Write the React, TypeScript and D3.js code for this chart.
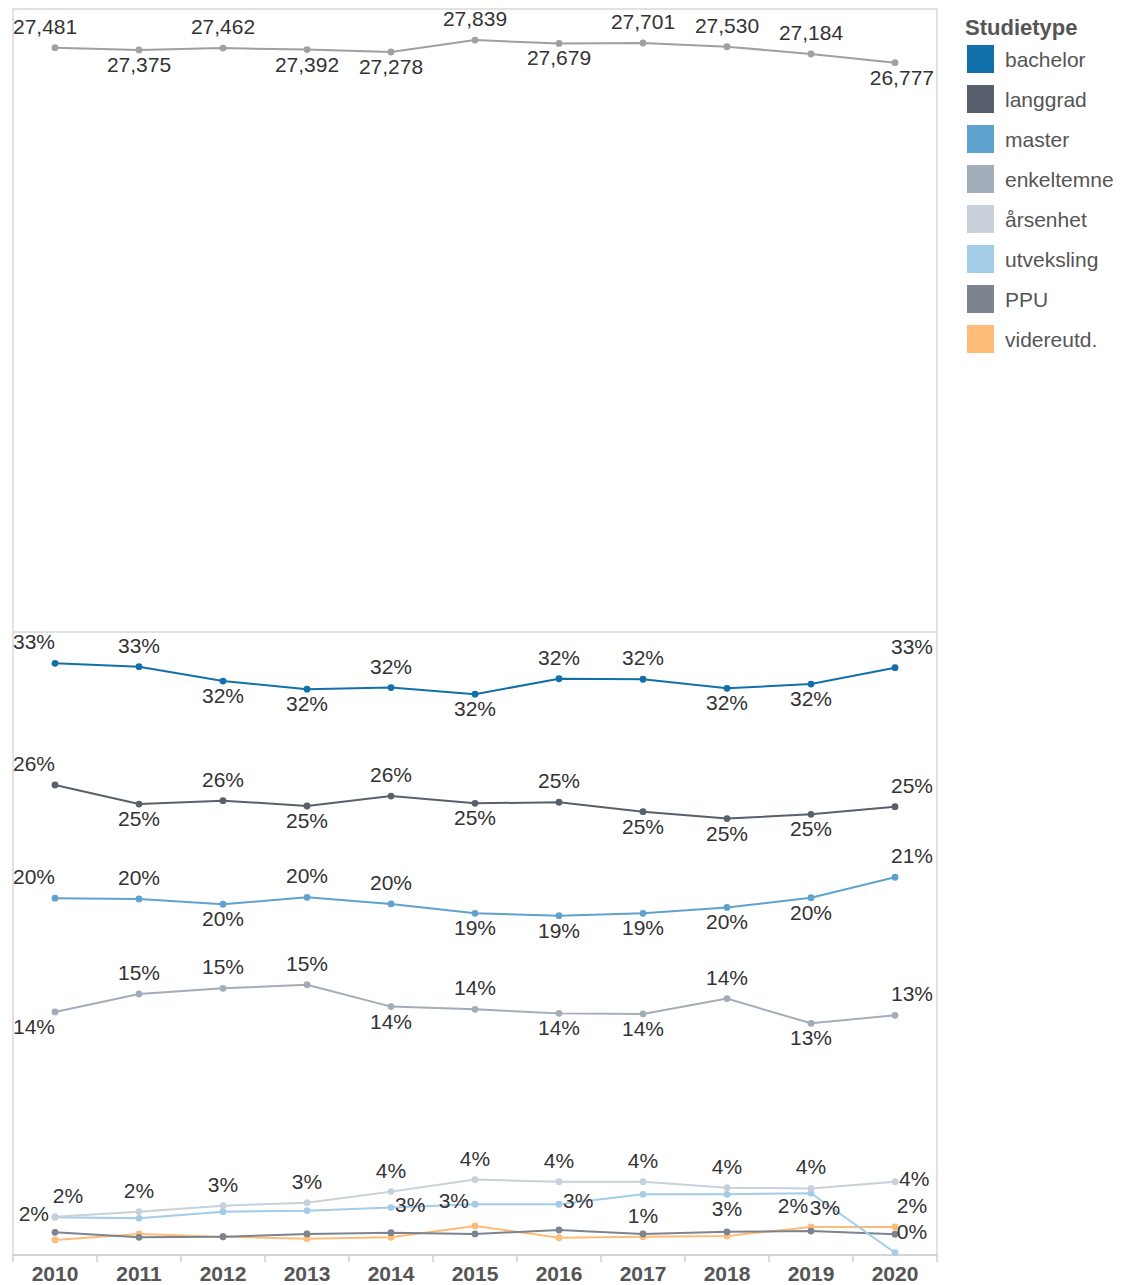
import React from 'react';
import * as d3 from 'd3';

// ---------- data ----------
const years = [2010, 2011, 2012, 2013, 2014, 2015, 2016, 2017, 2018, 2019, 2020];
const totalStudents = [27481, 27375, 27462, 27392, 27278, 27839, 27679, 27701, 27530, 27184, 26777];

const bachelor = [33.24, 33.05, 32.24, 31.78, 31.87, 31.5, 32.37, 32.34, 31.83, 32.07, 32.99];
const langgrad = [26.39, 25.32, 25.51, 25.21, 25.77, 25.36, 25.42, 24.89, 24.5, 24.74, 25.17];
const master = [20.02, 19.98, 19.68, 20.07, 19.7, 19.17, 19.04, 19.17, 19.5, 20.05, 21.2];
const enkeltemne = [13.62, 14.63, 14.95, 15.15, 13.92, 13.77, 13.54, 13.51, 14.37, 12.98, 13.43];
const arsenhet = [2.1, 2.38, 2.72, 2.89, 3.51, 4.19, 4.07, 4.07, 3.73, 3.69, 4.07];
const utveksling = [2.07, 2.01, 2.38, 2.44, 2.61, 2.8, 2.8, 3.36, 3.36, 3.42, 0.07];
const ppu = [1.22, 0.94, 0.97, 1.13, 1.2, 1.13, 1.35, 1.13, 1.25, 1.29, 1.11];
const videreutd = [0.79, 1.13, 0.97, 0.86, 0.94, 1.58, 0.92, 0.97, 1.01, 1.52, 1.52];

const seriesNames = ['bachelor', 'langgrad', 'master', 'enkeltemne', 'årsenhet', 'utveksling', 'PPU', 'videreutd.'];
const seriesValues = [bachelor, langgrad, master, enkeltemne, arsenhet, utveksling, ppu, videreutd];
const seriesColors = ['#1170aa', '#57606c', '#5fa2ce', '#a3acb9', '#c8d0d9', '#a3cce9', '#7b848f', '#ffbc79'];
const legendTitle = 'Studietype';

// ---------- label placement (a = above, b = below, r = right, l = left) ----------
type Spec = null | string | { p: string; dx: number };
const totalLabelPos: Spec[] = ['a', 'b', 'a', 'b', 'b', 'a', 'b', 'a', 'a', 'a', 'b'];
const seriesLabelPos: Spec[][] = [
  ['a', 'a', 'b', 'b', 'a', 'b', 'a', 'a', 'b', 'b', 'a'],
  ['a', 'b', 'a', 'b', 'a', 'b', 'a', 'b', 'b', 'b', 'a'],
  ['a', 'a', 'b', 'a', 'a', 'b', 'b', 'b', 'b', 'b', 'a'],
  ['b', 'a', 'a', 'a', 'b', 'a', 'b', 'b', 'a', 'b', 'a'],
  [{ p: 'a', dx: 13 }, 'a', 'a', 'a', 'a', 'a', 'a', 'a', 'a', 'a', 'r'],
  ['l', null, null, null, 'r', 'l', 'r', null, 'b', { p: 'b', dx: 14 }, 'a'],
  [null, null, null, null, null, null, null, null, null, null, null],
  [null, null, null, null, null, null, null, 'a', null, { p: 'a', dx: -18 }, 'a'],
];

// ---------- layout ----------
const W = 1123;
const H = 1285;
const LEFT = 13;
const RIGHT = 937;
const TOP = 9;
const MID = 632;
const BOTTOM = 1255;
const FONT = '"Liberation Sans", Arial, Helvetica, sans-serif';
const LABEL_SIZE = 21;

let measureCtx: CanvasRenderingContext2D | null = null;
function textWidth(t: string, size: number, weight = 'normal') {
  if (!measureCtx && typeof document !== 'undefined') {
    measureCtx = document.createElement('canvas').getContext('2d');
  }
  if (!measureCtx) return t.length * size * 0.55;
  measureCtx.font = `${weight} ${size}px ${FONT}`;
  return measureCtx.measureText(t).width;
}

function place(i: number, n: number, px: number, py: number, spec: Spec, text: string) {
  if (!spec) return null;
  const s = typeof spec === 'string' ? { p: spec, dx: undefined as number | undefined } : spec;
  const w = textWidth(text, LABEL_SIZE);
  if (s.p === 'a' || s.p === 'b') {
    const y = s.p === 'a' ? py - 14 : py + 22;
    let cx: number;
    if (s.dx !== undefined) cx = px + s.dx;
    else {
      cx = px + (i === 0 ? -22 : i === n - 1 ? 17 : 0);
      cx = Math.max(LEFT + w / 2, Math.min(934 - w / 2, cx));
    }
    return { x: cx - w / 2, y, text };
  }
  if (s.p === 'r') return { x: px + 4, y: py + 4, text };
  return { x: px - 6 - w, y: py + 4, text };
}

export default function App() {
  const x = d3.scaleBand<number>().domain(years).range([LEFT, RIGHT]).padding(0);
  const xc = (yr: number) => (x(yr) as number) + x.bandwidth() / 2;
  const yTop = d3.scaleLinear().domain([0, 29300]).range([MID, TOP]);
  const yBot = d3.scaleLinear().domain([0, 35]).range([1254, MID]);

  const fmtInt = d3.format(',');
  const fmtPct = (v: number) => `${Math.round(v)}%`;

  const lineTop = d3
    .line<number>()
    .x((_, i) => xc(years[i]))
    .y((d) => yTop(d));
  const lineBot = d3
    .line<number>()
    .x((_, i) => xc(years[i]))
    .y((d) => yBot(d));

  const n = years.length;
  const labels: { x: number; y: number; text: string }[] = [];
  totalStudents.forEach((v, i) => {
    const l = place(i, n, xc(years[i]), yTop(v), totalLabelPos[i], fmtInt(v));
    if (l) labels.push(l);
  });
  seriesValues.forEach((vals, s) => {
    vals.forEach((v, i) => {
      const l = place(i, n, xc(years[i]), yBot(v), seriesLabelPos[s][i], fmtPct(v));
      if (l) labels.push(l);
    });
  });

  const drawOrder = seriesValues.map((_, i) => i).reverse();
  const tickPositions = years.map((yr) => x(yr) as number).concat([RIGHT]);

  return (
    <svg
      width={W}
      height={H}
      style={{ position: 'absolute', left: 0, top: 0, background: '#fff' }}
      fontFamily={FONT}
    >
      <rect x={0} y={0} width={W} height={H} fill="#fff" />
      {/* frame */}
      <rect x={LEFT} y={TOP} width={RIGHT - LEFT} height={BOTTOM - TOP} fill="none" stroke="#d9d9d9" strokeWidth={1.5} />
      <line x1={LEFT} x2={RIGHT} y1={MID} y2={MID} stroke="#d9d9d9" strokeWidth={1.5} />
      {/* x axis */}
      <line x1={LEFT} x2={RIGHT} y1={BOTTOM} y2={BOTTOM} stroke="#cfcfcf" strokeWidth={1.5} />
      {tickPositions.map((tx, i) => (
        <line key={i} x1={tx} x2={tx} y1={BOTTOM} y2={BOTTOM + 7} stroke="#cfcfcf" strokeWidth={1.5} />
      ))}
      {years.map((yr) => (
        <text key={yr} x={xc(yr)} y={1281} textAnchor="middle" fontSize={21} fontWeight="bold" fill="#555">
          {yr}
        </text>
      ))}

      {/* top pane */}
      <path d={lineTop(totalStudents) || ''} fill="none" stroke="#a0a0a0" strokeWidth={2} />
      {totalStudents.map((v, i) => (
        <circle key={i} cx={xc(years[i])} cy={yTop(v)} r={3.4} fill="#a0a0a0" />
      ))}

      {/* bottom pane */}
      {drawOrder.map((s) => (
        <g key={seriesNames[s]}>
          <path d={lineBot(seriesValues[s]) || ''} fill="none" stroke={seriesColors[s]} strokeWidth={2} />
          {seriesValues[s].map((v, i) => (
            <circle key={i} cx={xc(years[i])} cy={yBot(v)} r={3.4} fill={seriesColors[s]} />
          ))}
        </g>
      ))}

      {/* labels */}
      {labels.map((l, i) => (
        <text key={i} x={l.x} y={l.y} fontSize={LABEL_SIZE} fill="#333">
          {l.text}
        </text>
      ))}

      {/* legend */}
      <text x={965} y={35} fontSize={22} fontWeight="bold" fill="#555">
        {legendTitle}
      </text>
      {seriesNames.map((name, i) => (
        <g key={name}>
          <rect x={967} y={45 + 40 * i} width={27} height={28} fill={seriesColors[i]} />
          <text x={1005} y={67 + 40 * i} fontSize={21} fill="#555">
            {name}
          </text>
        </g>
      ))}
    </svg>
  );
}
